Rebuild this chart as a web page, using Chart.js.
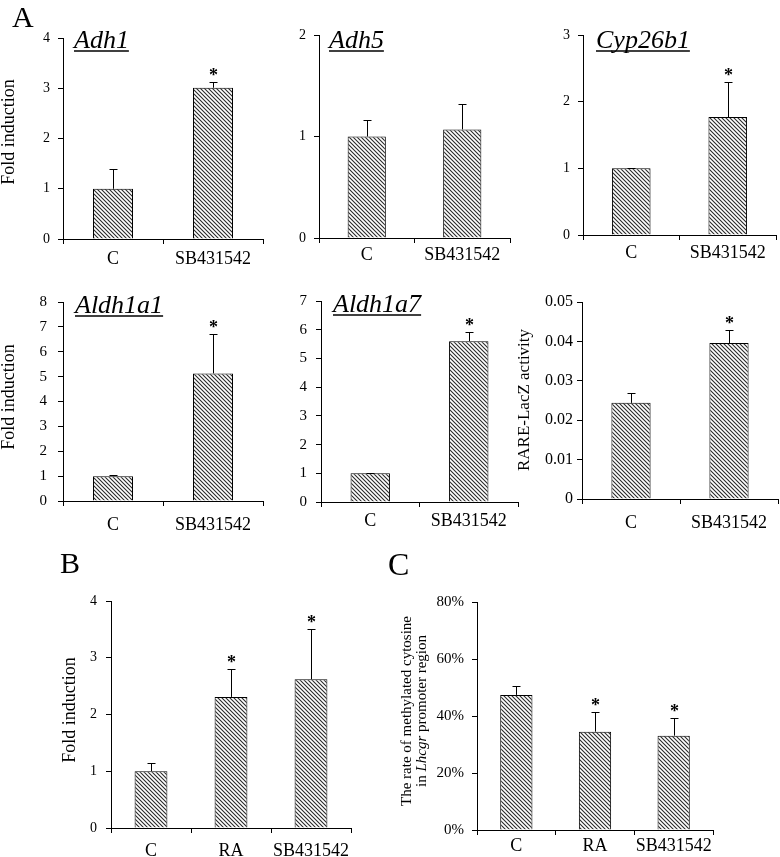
<!DOCTYPE html>
<html>
<head>
<meta charset="utf-8">
<script src="https://cdn.jsdelivr.net/npm/chart.js@4.4.1/dist/chart.umd.min.js"></script>
<style>
    body { margin: 0; background: #fff; overflow: hidden; }
    #fig { position: relative; width: 780px; height: 857px; }
    #fig canvas { position: absolute; left: 0; top: 0; }
</style>
</head>
<body>
<div id="fig">
    <canvas id="adh1" width="780" height="857"></canvas>
    <canvas id="adh5" width="780" height="857"></canvas>
    <canvas id="cyp26b1" width="780" height="857"></canvas>
    <canvas id="aldh1a1" width="780" height="857"></canvas>
    <canvas id="aldh1a7" width="780" height="857"></canvas>
    <canvas id="rare" width="780" height="857"></canvas>
    <canvas id="panelB" width="780" height="857"></canvas>
    <canvas id="panelC" width="780" height="857"></canvas>
</div>
<script>
    // Categories
    var twoGroups = ['C', 'SB431542'];
    var threeGroups = ['C', 'RA', 'SB431542'];

    // Panel A values (mean, upper SD, significance)
    var adh1Values = [1.00, 3.01];
    var adh1Errors = [0.39, 0.12];
    var adh1Stars = [false, true];

    var adh5Values = [1.00, 1.07];
    var adh5Errors = [0.16, 0.25];
    var adh5Stars = [false, false];

    var cyp26b1Values = [1.00, 1.77];
    var cyp26b1Errors = [0.01, 0.53];
    var cyp26b1Stars = [false, true];

    var aldh1a1Values = [1.00, 5.13];
    var aldh1a1Errors = [0.05, 1.57];
    var aldh1a1Stars = [false, true];

    var aldh1a7Values = [1.00, 5.60];
    var aldh1a7Errors = [0.02, 0.32];
    var aldh1a7Stars = [false, true];

    var rareValues = [0.0244, 0.0396];
    var rareErrors = [0.0024, 0.0032];
    var rareStars = [false, true];

    // Panel B
    var foldValues = [1.00, 2.31, 2.62];
    var foldErrors = [0.15, 0.49, 0.88];
    var foldStars = [false, true, true];

    // Panel C (percent)
    var methylValues = [47.4, 34.5, 33.1];
    var methylErrors = [3.1, 6.9, 6.2];
    var methylStars = [false, true, true];

    var SERIF = '"Liberation Serif", "Times New Roman", serif';
    Chart.defaults.font.family = SERIF;
    Chart.defaults.color = '#000';

    // Diagonal hatch fill for the bars
    function hatch() {
        var c = document.createElement('canvas');
        c.width = 4;
        c.height = 4;
        var g = c.getContext('2d');
        g.fillStyle = '#fff';
        g.fillRect(0, 0, 4, 4);
        g.strokeStyle = '#2a2a2a';
        g.lineWidth = 1.1;
        g.beginPath();
        g.moveTo(-1, -1); g.lineTo(5, 5);
        g.moveTo(-1, 3); g.lineTo(1, 5);
        g.moveTo(3, -1); g.lineTo(5, 1);
        g.stroke();
        return g.createPattern(c, 'repeat');
    }

    // Upper error whiskers and significance stars
    var errorBars = {
        id: 'errorBars',
        afterDatasetsDraw: function(chart, args, o) {
            var ctx = chart.ctx;
            var yScale = chart.scales.y;
            var values = chart.data.datasets[0].data;
            ctx.save();
            ctx.strokeStyle = '#000';
            ctx.fillStyle = '#000';
            ctx.lineWidth = 1;
            chart.getDatasetMeta(0).data.forEach(function(bar, i) {
                var x = Math.round(bar.x) + 0.5;
                var top = Math.round(yScale.getPixelForValue(values[i] + o.errors[i])) + 0.5;
                ctx.beginPath();
                ctx.moveTo(x, bar.y);
                ctx.lineTo(x, top);
                ctx.moveTo(x - 4, top);
                ctx.lineTo(x + 4, top);
                ctx.stroke();
                if (o.stars[i]) {
                    ctx.font = 'bold 18px ' + SERIF;
                    ctx.textAlign = 'center';
                    ctx.textBaseline = 'alphabetic';
                    ctx.fillText('*', x, top - 1.5);
                }
            });
            ctx.restore();
        }
    };

    // Gene title, panel letter and the rotated y-axis title
    var panelText = {
        id: 'panelText',
        afterDraw: function(chart, args, o) {
            var ctx = chart.ctx;
            ctx.save();
            ctx.fillStyle = '#000';
            ctx.strokeStyle = '#000';
            ctx.textAlign = 'left';
            ctx.textBaseline = 'alphabetic';

            if (o.letter) {
                ctx.font = o.letter.size + 'px ' + SERIF;
                ctx.fillText(o.letter.text, o.letter.x, o.letter.y);
            }

            if (o.title) {
                ctx.font = 'italic 26px ' + SERIF;
                ctx.fillText(o.title.text, o.title.x, o.title.y);
                var w = ctx.measureText(o.title.text).width;
                ctx.lineWidth = 1.3;
                ctx.beginPath();
                ctx.moveTo(o.title.x, o.title.y + 3);
                ctx.lineTo(o.title.x + w, o.title.y + 3);
                ctx.stroke();
            }

            if (o.yTitle) {
                var t = o.yTitle;
                var n = t.lines.length;
                ctx.translate(t.x, t.y);
                ctx.rotate(-Math.PI / 2);
                ctx.textBaseline = 'middle';
                t.lines.forEach(function(line, li) {
                    var total = 0;
                    line.forEach(function(seg) {
                        ctx.font = (seg.italic ? 'italic ' : '') + t.size + 'px ' + SERIF;
                        total += ctx.measureText(seg.text).width;
                    });
                    var cx = -total / 2;
                    var cy = (li - (n - 1) / 2) * t.lineHeight;
                    line.forEach(function(seg) {
                        ctx.font = (seg.italic ? 'italic ' : '') + t.size + 'px ' + SERIF;
                        ctx.fillText(seg.text, cx, cy);
                        cx += ctx.measureText(seg.text).width;
                    });
                });
            }
            ctx.restore();
        }
    };

    var X_AXIS_HEIGHT = 45;

    function drawPanel(id, p) {
        var ctx = document.getElementById(id).getContext('2d');
        return new Chart(ctx, {
            type: 'bar',
            data: {
                labels: p.labels,
                datasets: [{
                    data: p.values,
                    backgroundColor: hatch(),
                    borderColor: '#000',
                    borderWidth: 1,
                    barPercentage: p.barPct,
                    categoryPercentage: 1
                }]
            },
            options: {
                responsive: false,
                animation: false,
                layout: {
                    padding: {
                        left: 0,
                        top: p.area.top,
                        right: 780 - p.area.right,
                        bottom: 857 - p.area.bottom - X_AXIS_HEIGHT
                    }
                },
                plugins: {
                    legend: { display: false },
                    tooltip: { enabled: false },
                    errorBars: { errors: p.errors, stars: p.stars },
                    panelText: p.text
                },
                scales: {
                    x: {
                        grid: { offset: true, drawOnChartArea: false, color: '#000', tickLength: 5 },
                        border: { color: '#000' },
                        ticks: { color: '#000', padding: p.xPad, font: { size: 18 }, maxRotation: 0, autoSkip: false },
                        afterFit: function(s) { s.height = X_AXIS_HEIGHT; }
                    },
                    y: {
                        min: 0,
                        max: p.max,
                        ticks: {
                            stepSize: p.step,
                            color: '#000',
                            padding: p.yPad,
                            font: { size: p.yFont },
                            callback: p.format
                        },
                        grid: { drawOnChartArea: false, color: '#000', tickLength: 5 },
                        border: { color: '#000' },
                        afterFit: function(s) { s.width = p.area.left; }
                    }
                }
            },
            plugins: [errorBars, panelText]
        });
    }

    var foldTitle = [[{ text: 'Fold induction' }]];

    drawPanel('adh1', {
        labels: twoGroups, values: adh1Values, errors: adh1Errors, stars: adh1Stars,
        area: { left: 63, right: 263, top: 38, bottom: 239 },
        max: 4, step: 1, yFont: 14, yPad: 8, xPad: 4, barPct: 0.4,
        text: {
            letter: { text: 'A', x: 12, y: 27, size: 30 },
            title: { text: 'Adh1', x: 74, y: 48 },
            yTitle: { lines: foldTitle, x: 9, y: 132, size: 18, lineHeight: 18 }
        }
    });

    drawPanel('adh5', {
        labels: twoGroups, values: adh5Values, errors: adh5Errors, stars: adh5Stars,
        area: { left: 319, right: 510, top: 35, bottom: 238 },
        max: 2, step: 1, yFont: 14, yPad: 8, xPad: 1, barPct: 0.4,
        text: { title: { text: 'Adh5', x: 329, y: 48 } }
    });

    drawPanel('cyp26b1', {
        labels: twoGroups, values: cyp26b1Values, errors: cyp26b1Errors, stars: cyp26b1Stars,
        area: { left: 583, right: 776, top: 35, bottom: 235 },
        max: 3, step: 1, yFont: 14, yPad: 8, xPad: 2, barPct: 0.4,
        text: { title: { text: 'Cyp26b1', x: 596, y: 48 } }
    });

    drawPanel('aldh1a1', {
        labels: twoGroups, values: aldh1a1Values, errors: aldh1a1Errors, stars: aldh1a1Stars,
        area: { left: 63, right: 263, top: 302, bottom: 501 },
        max: 8, step: 1, yFont: 15, yPad: 11, xPad: 8, barPct: 0.4,
        text: {
            title: { text: 'Aldh1a1', x: 75, y: 313 },
            yTitle: { lines: foldTitle, x: 9, y: 397, size: 18, lineHeight: 18 }
        }
    });

    drawPanel('aldh1a7', {
        labels: twoGroups, values: aldh1a7Values, errors: aldh1a7Errors, stars: aldh1a7Stars,
        area: { left: 321, right: 518, top: 301, bottom: 502 },
        max: 7, step: 1, yFont: 15, yPad: 9, xPad: 3, barPct: 0.4,
        text: { title: { text: 'Aldh1a7', x: 333, y: 312 } }
    });

    drawPanel('rare', {
        labels: twoGroups, values: rareValues, errors: rareErrors, stars: rareStars,
        area: { left: 582, right: 778, top: 302, bottom: 499 },
        max: 0.05, step: 0.01, yFont: 16, yPad: 4, xPad: 8, barPct: 0.4,
        text: {
            yTitle: { lines: [[{ text: 'RARE-LacZ activity' }]], x: 525, y: 400, size: 17, lineHeight: 17 }
        }
    });

    drawPanel('panelB', {
        labels: threeGroups, values: foldValues, errors: foldErrors, stars: foldStars,
        area: { left: 111, right: 351, top: 601, bottom: 828 },
        max: 4, step: 1, yFont: 14, yPad: 9, xPad: 7, barPct: 0.41,
        text: {
            letter: { text: 'B', x: 60, y: 573, size: 30 },
            yTitle: { lines: foldTitle, x: 70, y: 710, size: 18, lineHeight: 18 }
        }
    });

    drawPanel('panelC', {
        labels: threeGroups, values: methylValues, errors: methylErrors, stars: methylStars,
        area: { left: 477, right: 713, top: 602, bottom: 830 },
        max: 80, step: 20, yFont: 15, yPad: 8, xPad: 0, barPct: 0.41,
        format: function(v) { return v + '%'; },
        text: {
            letter: { text: 'C', x: 388, y: 575, size: 32 },
            yTitle: {
                lines: [
                    [{ text: 'The rate of methylated cytosine' }],
                    [{ text: 'in ' }, { text: 'Lhcgr', italic: true }, { text: ' promoter region' }]
                ],
                x: 415, y: 711, size: 15, lineHeight: 15
            }
        }
    });
</script>
</body>
</html>
